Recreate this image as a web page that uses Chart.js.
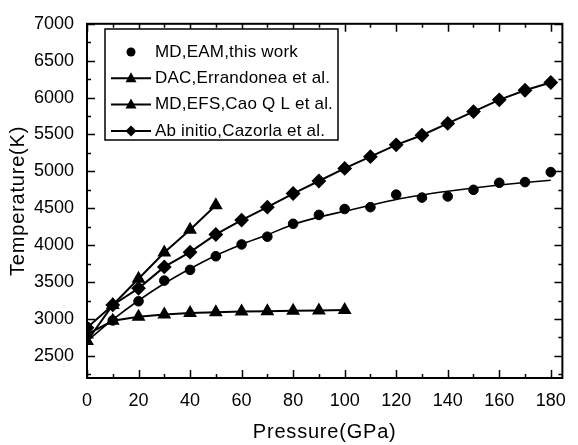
<!DOCTYPE html>
<html>
<head>
<meta charset="utf-8">
<script src="https://cdn.jsdelivr.net/npm/chart.js@4.4.1/dist/chart.umd.min.js"></script>
<style>
  html, body { margin: 0; padding: 0; background: #fff; }
</style>
</head>
<body>
<canvas id="meltChart" width="578" height="445"></canvas>
<script>
// Data
const eamPressure = [0, 10, 20, 30, 40, 50, 60, 70, 80, 90, 100, 110, 120, 130, 140, 150, 160, 170, 180];
const eamTemp = [2890, 2980, 3240, 3520, 3665, 3850, 4010, 4115, 4290, 4410, 4490, 4515, 4685, 4645, 4660, 4750, 4845, 4855, 4990];
const eamFitTemp = [2700, 2990, 3250, 3480, 3680, 3860, 4010, 4140, 4280, 4380, 4460, 4540, 4620, 4680, 4730, 4775, 4815, 4850, 4880];
const dacPressure = [0, 10, 20, 30, 40, 50, 60, 70, 80, 90, 100];
const dacTemp = [2790, 2975, 3030, 3060, 3080, 3090, 3100, 3105, 3110, 3115, 3120];
const efsPressure = [0, 10, 20, 30, 40, 50];
const efsTemp = [2700, 3190, 3545, 3900, 4210, 4540];
const abPressure = [0, 10, 20, 30, 40, 50, 60, 70, 80, 90, 100, 110, 120, 130, 140, 150, 160, 170, 180];
const abTemp = [2880, 3190, 3415, 3705, 3905, 4145, 4340, 4515, 4700, 4870, 5040, 5200, 5360, 5490, 5650, 5810, 5970, 6100, 6205];
const legendLabels = ['MD,EAM,this work', 'DAC,Errandonea et al.', 'MD,EFS,Cao Q L et al.', 'Ab initio,Cazorla et al.'];
const xTicks = [0, 20, 40, 60, 80, 100, 120, 140, 160, 180];
const yTicks = [2500, 3000, 3500, 4000, 4500, 5000, 5500, 6000, 6500, 7000];

const FONT = '"Liberation Sans", Arial, sans-serif';

function pairs(xs, ys) {
    return xs.map((x, i) => ({ x: x, y: ys[i] }));
}

// draw a marker by hand (used for the legend)
function marker(ctx, style, x, y, r) {
    ctx.beginPath();
    if (style === 'circle') {
        ctx.arc(x, y, r, 0, Math.PI * 2);
    } else if (style === 'triangle') {
        ctx.moveTo(x, y - r * 1.1);
        ctx.lineTo(x + r, y + r * 0.7);
        ctx.lineTo(x - r, y + r * 0.7);
        ctx.closePath();
    } else {
        ctx.moveTo(x, y - r);
        ctx.lineTo(x + r, y);
        ctx.lineTo(x, y + r);
        ctx.lineTo(x - r, y);
        ctx.closePath();
    }
    ctx.fill();
}

// frame, inward ticks on all sides, axis titles and the boxed legend
const framePlugin = {
    id: 'frame',
    afterDraw(chart) {
        const ctx = chart.ctx;
        const a = chart.chartArea;
        const xs = chart.scales.x;
        const ys = chart.scales.y;
        ctx.save();
        ctx.strokeStyle = '#000';
        ctx.lineWidth = 2;
        ctx.strokeRect(a.left, a.top, a.right - a.left, a.bottom - a.top);

        ctx.lineWidth = 1.5;
        ctx.beginPath();
        for (let v = 0; v <= 184; v += 10) {
            const px = Math.round(xs.getPixelForValue(v)) + 0.5;
            const len = v % 20 === 0 ? 8 : 4;
            ctx.moveTo(px, a.bottom); ctx.lineTo(px, a.bottom - len);
            ctx.moveTo(px, a.top); ctx.lineTo(px, a.top + len);
        }
        for (let v = 2250; v <= 7000; v += 250) {
            const py = Math.round(ys.getPixelForValue(v)) + 0.5;
            const len = v % 500 === 0 ? 8 : 4;
            ctx.moveTo(a.left, py); ctx.lineTo(a.left + len, py);
            ctx.moveTo(a.right, py); ctx.lineTo(a.right - len, py);
        }
        ctx.stroke();

        // axis titles
        ctx.fillStyle = '#000';
        ctx.font = '20px ' + FONT;
        ctx.letterSpacing = '0.8px';
        ctx.textAlign = 'center';
        ctx.textBaseline = 'middle';
        ctx.fillText('Pressure(GPa)', (a.left + a.right) / 2, 432);
        ctx.save();
        ctx.translate(18, (a.top + a.bottom) / 2);
        ctx.rotate(-Math.PI / 2);
        ctx.fillText('Temperature(K)', 0, 0);
        ctx.restore();

        // legend
        const box = { x: 105, y: 29, w: 233, h: 111 };
        ctx.fillStyle = '#fff';
        ctx.fillRect(box.x, box.y, box.w, box.h);
        ctx.lineWidth = 1.5;
        ctx.strokeRect(box.x, box.y, box.w, box.h);
        const styles = ['circle', 'triangle', 'triangle', 'diamond'];
        ctx.fillStyle = '#000';
        ctx.font = '17px ' + FONT;
        ctx.letterSpacing = '0.2px';
        ctx.textAlign = 'left';
        ctx.textBaseline = 'middle';
        legendLabels.forEach((label, i) => {
            const y = 52 + i * 26.3;
            if (i > 0) {
                ctx.lineWidth = 2;
                ctx.beginPath();
                ctx.moveTo(111, y); ctx.lineTo(151, y);
                ctx.stroke();
            }
            marker(ctx, styles[i], 131, y, i === 0 ? 4.5 : 5.5);
            ctx.fillText(label, 155, y);
        });
        ctx.restore();
    }
};

const ctx = document.getElementById('meltChart').getContext('2d');
const meltChart = new Chart(ctx, {
    type: 'scatter',
    data: {
        datasets: [
            {
                label: 'EAM fit',
                data: pairs(eamPressure, eamFitTemp),
                showLine: true,
                borderColor: '#000',
                borderWidth: 1.6,
                pointRadius: 0,
                cubicInterpolationMode: 'monotone'
            },
            {
                label: legendLabels[0],
                data: pairs(eamPressure, eamTemp),
                showLine: false,
                pointStyle: 'circle',
                pointRadius: 4.8,
                backgroundColor: '#000',
                borderColor: '#000'
            },
            {
                label: legendLabels[1],
                data: pairs(dacPressure, dacTemp),
                showLine: true,
                borderColor: '#000',
                borderWidth: 2,
                backgroundColor: '#000',
                pointStyle: 'triangle',
                pointRadius: 6
            },
            {
                label: legendLabels[2],
                data: pairs(efsPressure, efsTemp),
                showLine: true,
                borderColor: '#000',
                borderWidth: 2,
                backgroundColor: '#000',
                pointStyle: 'triangle',
                pointRadius: 6
            },
            {
                label: legendLabels[3],
                data: pairs(abPressure, abTemp),
                showLine: true,
                borderColor: '#000',
                borderWidth: 2,
                backgroundColor: '#000',
                pointStyle: 'rectRot',
                pointRadius: 6
            }
        ]
    },
    options: {
        responsive: false,
        animation: false,
        devicePixelRatio: 1,
        layout: { padding: { top: 15, right: 3, left: 0, bottom: 0 } },
        plugins: {
            legend: { display: false },
            tooltip: { enabled: false }
        },
        scales: {
            x: {
                type: 'linear',
                min: 0,
                max: 184.5,
                grid: { display: false, drawTicks: false },
                border: { display: false },
                afterBuildTicks: s => { s.ticks = xTicks.map(v => ({ value: v })); },
                afterFit: s => { s.height = 67; },
                ticks: {
                    color: '#000',
                    padding: 12,
                    maxRotation: 0,
                    font: { family: FONT, size: 18 },
                    callback: v => String(v)
                },
                title: { display: false }
            },
            y: {
                type: 'linear',
                min: 2200,
                max: 7000,
                grid: { display: false, drawTicks: false },
                border: { display: false },
                afterBuildTicks: s => { s.ticks = yTicks.map(v => ({ value: v })); },
                afterFit: s => { s.width = 87; },
                ticks: {
                    color: '#000',
                    padding: 13,
                    font: { family: FONT, size: 18 },
                    callback: v => String(v)
                },
                title: { display: false }
            }
        }
    },
    plugins: [framePlugin]
});
</script>
</body>
</html>
